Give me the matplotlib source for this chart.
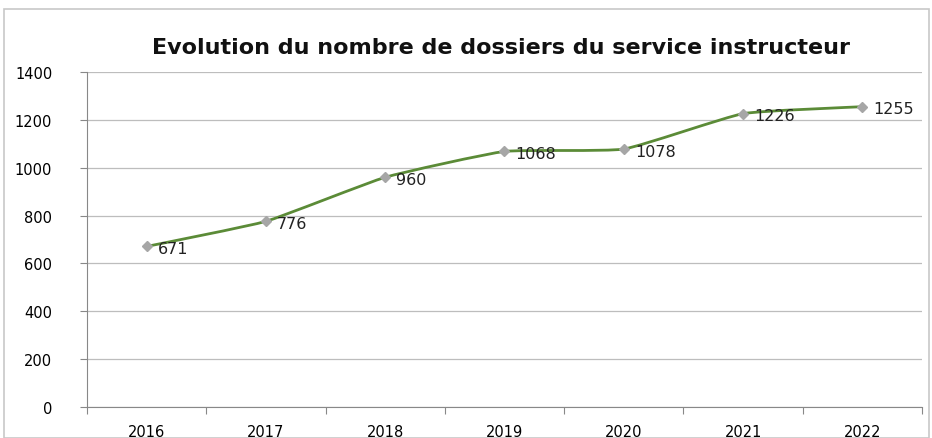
import matplotlib.pyplot as plt
from matplotlib.patches import Rectangle, PathPatch
from matplotlib.path import Path

years = ['2016', '2017', '2018', '2019', '2020', '2021', '2022']
dossiers = [671, 776, 960, 1068, 1078, 1226, 1255]

fig = plt.figure(figsize=(9.32, 4.39), dpi=100)
fig.patches.append(Rectangle((4/932, 0), 1 - 7/932, 1 - 10/439, transform=fig.transFigure,
                             fill=False, edgecolor='#c8c8c8', lw=1.2))
ax = fig.add_axes([87/932, 1 - 408/439, (922 - 87)/932, (408 - 73)/439])

x = list(range(len(years)))

# lightly smoothed line (bezier through the points)
verts = [(x[0], dossiers[0])]
codes = [Path.MOVETO]
n = len(x)
t = 1 / 14
for i in range(n - 1):
    p0 = (x[max(i - 1, 0)], dossiers[max(i - 1, 0)])
    p1 = (x[i], dossiers[i])
    p2 = (x[i + 1], dossiers[i + 1])
    p3 = (x[min(i + 2, n - 1)], dossiers[min(i + 2, n - 1)])
    c1 = (p1[0] + (p2[0] - p0[0]) * t, p1[1] + (p2[1] - p0[1]) * t)
    c2 = (p2[0] - (p3[0] - p1[0]) * t, p2[1] - (p3[1] - p1[1]) * t)
    verts += [c1, c2, p2]
    codes += [Path.CURVE4] * 3
ax.add_patch(PathPatch(Path(verts, codes), fill=False, edgecolor='#5b8b37', lw=2, zorder=3))
ax.plot(x, dossiers, ls='none', marker='D', ms=5, color='#a6a6a6', zorder=4)
for xi, v in zip(x, dossiers):
    ax.annotate(str(v), (xi, v), xytext=(8, -1.5), textcoords='offset points',
                ha='left', va='center', fontsize=11.5, color='#222222', zorder=5)

ax.set_xlim(-0.5, len(years) - 0.5)
ax.set_ylim(0, 1400)
ax.set_yticks(range(0, 1401, 200))
ax.set_xticks([i - 0.5 for i in range(len(years) + 1)], minor=False)
ax.set_xticklabels([])
ax.set_xticks(x, minor=True)
ax.set_xticklabels(years, minor=True)
ax.tick_params(axis='x', which='minor', length=0, pad=12, labelsize=10.5)
ax.tick_params(axis='x', which='major', length=5, color='#888888')
ax.tick_params(axis='y', length=5, color='#888888', labelsize=10.5, pad=20)
ax.grid(axis='y', color='#bdbdbd', lw=0.9)
ax.set_axisbelow(True)
for s in ['top', 'right']:
    ax.spines[s].set_visible(False)
ax.spines['left'].set_color('#888888')
ax.spines['bottom'].set_color('#888888')

fig.text(0.538, 1 - 48/439, 'Evolution du nombre de dossiers du service instructeur',
         ha='center', va='center', fontsize=16, fontweight='bold', color='#111111')

fig.savefig('out.png', dpi=100)
